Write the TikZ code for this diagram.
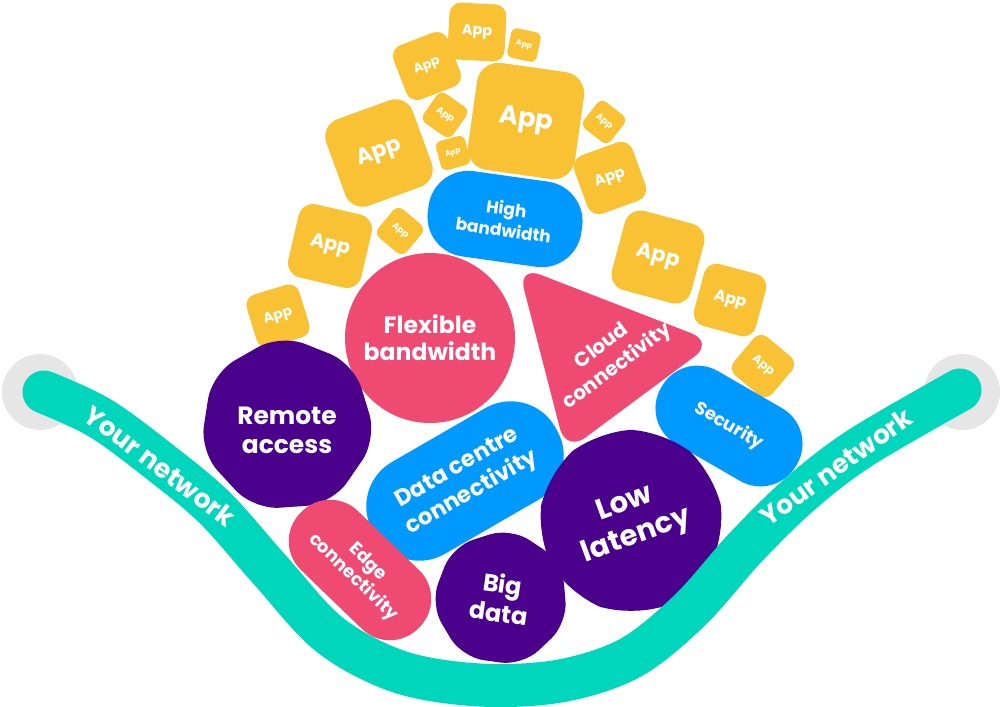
\documentclass[tikz,border=0pt]{standalone}
\usepackage{fontspec}
\setmainfont{Poppins}
\usetikzlibrary{shapes.geometric}
\definecolor{appy}{HTML}{F8C234}
\definecolor{bluec}{HTML}{0099FF}
\definecolor{pinkc}{HTML}{EF4A72}
\definecolor{purpc}{HTML}{4B008C}
\definecolor{tealc}{HTML}{00D6BC}
\definecolor{grayc}{HTML}{E6E6E6}
\newcommand\fs[2]{\fontsize{#1pt}{#2pt}\selectfont\bfseries}
\tikzset{
  lbl/.style={text=white, align=center, inner sep=0pt},
  appbox/.style={fill=appy, text=white, inner sep=0pt, align=center},
  pill/.style={lbl, rectangle},
}
\newcommand\appnode[6]{%
  \node[appbox, minimum size=#4*0.2mm, rounded corners=#4*0.04mm, rotate=#5,
        font=\fs{#6}{#6}] (#1) at (#2,#3) {App};}
\begin{document}
\begin{tikzpicture}[x=0.2mm, y=-0.2mm]
\useasboundingbox (0,0) rectangle (1000,706);

% apps
\appnode{a1}{477}{32}{57}{-3}{8.3}
\appnode{a2}{524}{45}{30}{-12}{4.4}
\appnode{a3}{427}{66}{58}{21}{7.4}
\appnode{a4}{526}{121}{108}{-8}{14.8}
\appnode{a5}{445}{115}{36}{-35}{5.4}
\appnode{a6}{453}{153}{30}{15}{4.3}
\appnode{a7}{379}{153}{92}{20}{12.5}
\appnode{a8}{604}{122}{34}{-38}{5.1}
\appnode{a9}{610}{178}{62}{20}{8.5}
\appnode{a10}{330}{246}{75}{-13}{11}
\appnode{a11}{400}{231}{37}{-40}{5.1}
\appnode{a12}{658}{257}{82}{-15}{12}
\appnode{a13}{730}{300}{64}{-15}{9}
\appnode{a14}{763}{366}{50}{-40}{6.8}
\appnode{a15}{278}{316}{55}{17}{8}

% high bandwidth
\node[pill, fill=bluec, minimum width=155*0.2mm, minimum height=86*0.2mm,
      rounded corners=40*0.2mm, rotate=-8, font=\fs{9.7}{12.5}] (hb) at (505,219)
      {High\\bandwidth};

% flexible bandwidth
\node[lbl, circle, fill=pinkc, minimum size=170*0.2mm, font=\fs{13.4}{15.5}] (fb)
      at (430,338) {Flexible\\bandwidth};

% cloud connectivity
\fill[pinkc, rounded corners=24*0.2mm] (518,266) -- (714,342) -- (566,452) -- cycle;
\node[lbl, rotate=37, font=\fs{11.4}{14.5}] (cc) at (610,357) {Cloud\\connectivity};

% remote access
\node[lbl, regular polygon, regular polygon sides=7, fill=purpc,
      minimum size=182*0.2mm, rounded corners=26*0.2mm, rotate=4,
      font=\fs{14.2}{16.5}] (ra) at (287,425) {};
\node[lbl, font=\fs{14.2}{16.5}] (rat) at (287,430) {Remote\\access};

% security
\node[pill, fill=bluec, minimum width=156*0.2mm, minimum height=84*0.2mm,
      rounded corners=41*0.2mm, rotate=-30, font=\fs{10.2}{12}] (se) at (729,426)
      {Security};

% data centre connectivity
\node[pill, fill=bluec, minimum width=210*0.2mm, minimum height=106*0.2mm,
      rounded corners=51*0.2mm, rotate=30, font=\fs{13}{16.5}] (dc) at (465,481)
      {Data centre\\connectivity};

% low latency
\node[lbl, regular polygon, regular polygon sides=9, fill=purpc,
      minimum size=194*0.2mm, rounded corners=36*0.2mm, rotate=20,
      font=\fs{16.5}{19.5}] (ll) at (631,521) {Low\\latency};

% edge connectivity
\node[pill, fill=pinkc, minimum width=165*0.2mm, minimum height=82*0.2mm,
      rounded corners=40*0.2mm, rotate=-44, font=\fs{10.2}{12}] (ec) at (360,570)
      {Edge\\connectivity};

% big data
\node[lbl, regular polygon, regular polygon sides=7, fill=purpc,
      minimum size=142*0.2mm, rounded corners=22*0.2mm, rotate=-8,
      font=\fs{13.7}{16.5}] (bd) at (501,598) {Big\\data};

% network band
\fill[grayc] (40,392) circle[radius=38*0.2mm];
\fill[grayc] (962,392) circle[radius=38*0.2mm];
\draw[tealc, line width=43*0.2mm, line cap=round]
  plot[smooth, tension=0.55] coordinates {(44,392) (100,418) (160,462) (215,508) (270,570)
  (330,635) (400,672) (480,685) (560,681) (630,658) (690,610) (745,548) (800,494)
  (860,448) (960,390)};
\node[lbl, rotate=-37, font=\fs{15}{15}] (yl) at (160,466) {Your network};
\node[lbl, rotate=35.6, font=\fs{15}{15}] (yr) at (836,467) {Your network};
\end{tikzpicture}
\end{document}
